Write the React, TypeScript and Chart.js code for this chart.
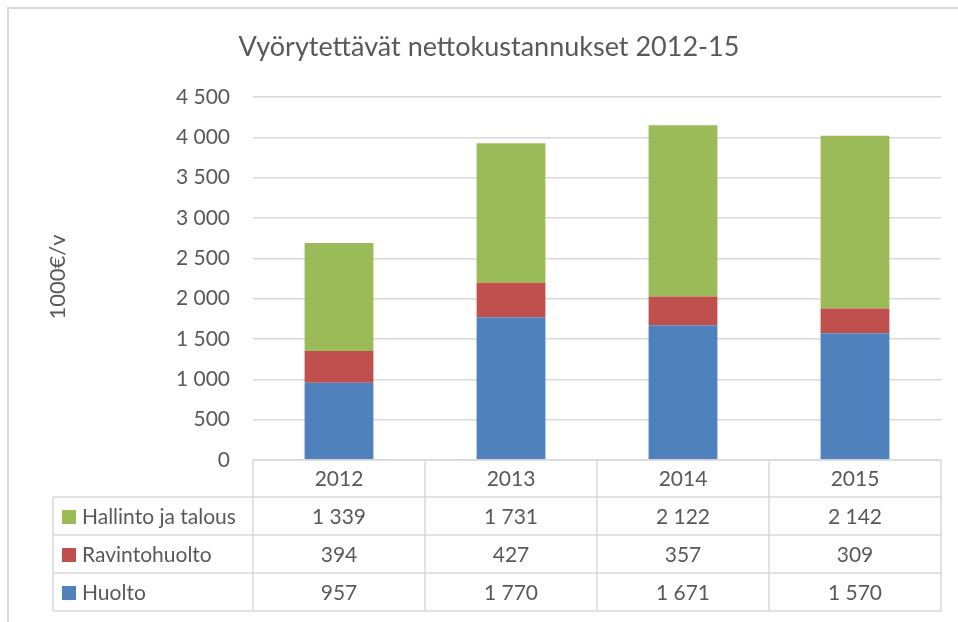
import React, { useEffect, useRef } from "react";
import { Chart, registerables } from "chart.js";
Chart.register(...registerables);

const years = ["2012", "2013", "2014", "2015"];
const huolto = [957, 1770, 1671, 1570];
const ravintohuolto = [394, 427, 357, 309];
const hallinto = [1339, 1731, 2122, 2142];
const seriesNames = ["Huolto", "Ravintohuolto", "Hallinto ja talous"];
const seriesColors = ["#4F81BD", "#C0504D", "#9BBB59"];
const yMax = 4500;
const yStep = 500;
const titleText = "Vyörytettävät nettokustannukset 2012-15";
const yTitleText = "1000€/v";

const FONT = "Lato, 'Open Sans', sans-serif";
const TEXT = "#595959";
const LINE = "#d9d9d9";

const fmt = (n: number) => String(n).replace(/\B(?=(\d{3})+(?!\d))/g, " ");

const tablePlugin = {
  id: "tablePlugin",
  beforeDraw(chart: any) {
    const ctx = chart.ctx;
    ctx.save();
    ctx.fillStyle = "#fff";
    ctx.fillRect(0, 0, chart.width, chart.height);
    ctx.restore();
  },
  afterDraw(chart: any) {
    const ctx = chart.ctx;
    const area = chart.chartArea;
    const xs = chart.scales.x;
    ctx.save();
    // outer frame (top and left visible)
    ctx.strokeStyle = LINE;
    ctx.lineWidth = 2;
    ctx.beginPath();
    ctx.moveTo(8, chart.height + 5);
    ctx.lineTo(8, 8);
    ctx.lineTo(chart.width + 5, 8);
    ctx.stroke();

    // title
    ctx.fillStyle = TEXT;
    ctx.textAlign = "center";
    ctx.textBaseline = "middle";
    ctx.font = `27px ${FONT}`;
    ctx.fillText(titleText, 489, 47);

    // y title
    ctx.save();
    ctx.translate(58, 277);
    ctx.rotate(-Math.PI / 2);
    ctx.font = `22px ${FONT}`;
    ctx.fillText(yTitleText, 0, 0);
    ctx.restore();

    // table
    const n = years.length;
    const colW = (area.right - area.left) / n;
    const top = area.bottom;
    const headerH = 37;
    const rowH = 38;
    const legendLeft = 53;
    const rows = chart.data.datasets.slice().reverse();
    const bottom = top + headerH + rowH * rows.length;

    ctx.strokeStyle = LINE;
    ctx.lineWidth = 1.5;
    ctx.beginPath();
    // header top line
    ctx.moveTo(area.left, top);
    ctx.lineTo(area.right, top);
    // row lines
    for (let r = 0; r <= rows.length; r++) {
      const y = top + headerH + r * rowH;
      ctx.moveTo(legendLeft, y);
      ctx.lineTo(area.right, y);
    }
    // vertical lines
    for (let c = 0; c <= n; c++) {
      const x = area.left + c * colW;
      ctx.moveTo(x, top);
      ctx.lineTo(x, bottom);
    }
    ctx.moveTo(legendLeft, top + headerH);
    ctx.lineTo(legendLeft, bottom);
    ctx.stroke();

    ctx.fillStyle = TEXT;
    ctx.font = `21px ${FONT}`;
    ctx.textAlign = "center";
    ctx.textBaseline = "middle";
    years.forEach((yr, i) => {
      const cx = xs.getPixelForValue(i);
      ctx.fillText(yr, cx, top + headerH / 2 + 1);
    });
    rows.forEach((ds: any, r: number) => {
      const cy = top + headerH + r * rowH + rowH / 2 + 1;
      ctx.fillStyle = ds.backgroundColor;
      ctx.fillRect(legendLeft + 9, cy - 7, 14, 14);
      ctx.fillStyle = TEXT;
      ctx.textAlign = "left";
      ctx.fillText(ds.label, legendLeft + 29, cy);
      ctx.textAlign = "center";
      ds.data.forEach((v: number, i: number) => {
        ctx.fillText(fmt(v), xs.getPixelForValue(i), cy);
      });
    });
    ctx.restore();
  },
};

export default function App() {
  const ref = useRef<HTMLCanvasElement>(null);
  useEffect(() => {
    if (!ref.current) return;
    const seriesData = [huolto, ravintohuolto, hallinto];
    const chart = new Chart(ref.current, {
      type: "bar",
      data: {
        labels: years,
        datasets: seriesNames.map((name, i) => ({
          label: name,
          data: seriesData[i],
          backgroundColor: seriesColors[i],
          borderWidth: 0,
          barPercentage: 0.4,
          categoryPercentage: 1,
        })),
      },
      options: {
        responsive: false,
        animation: false,
        devicePixelRatio: 1,
        layout: { padding: { top: 97, bottom: 162, right: 17, left: 0 } },
        plugins: {
          legend: { display: false },
          tooltip: { enabled: false },
          title: { display: false },
        },
        scales: {
          x: {
            stacked: true,
            display: false,
          },
          y: {
            stacked: true,
            min: 0,
            max: yMax,
            border: { display: false },
            grid: { color: LINE, lineWidth: 1.5, drawTicks: false },
            ticks: {
              stepSize: yStep,
              padding: 23,
              color: TEXT,
              font: { family: FONT, size: 21 },
              callback: (v: any) => fmt(Number(v)),
            },
            afterFit: (scale: any) => {
              scale.width = 253;
            },
          },
        },
      },
      plugins: [tablePlugin],
    });
    return () => chart.destroy();
  }, []);
  return (
    <canvas
      ref={ref}
      width={958}
      height={622}
      style={{ position: "fixed", left: 0, top: 0, width: 958, height: 622 }}
    />
  );
}
